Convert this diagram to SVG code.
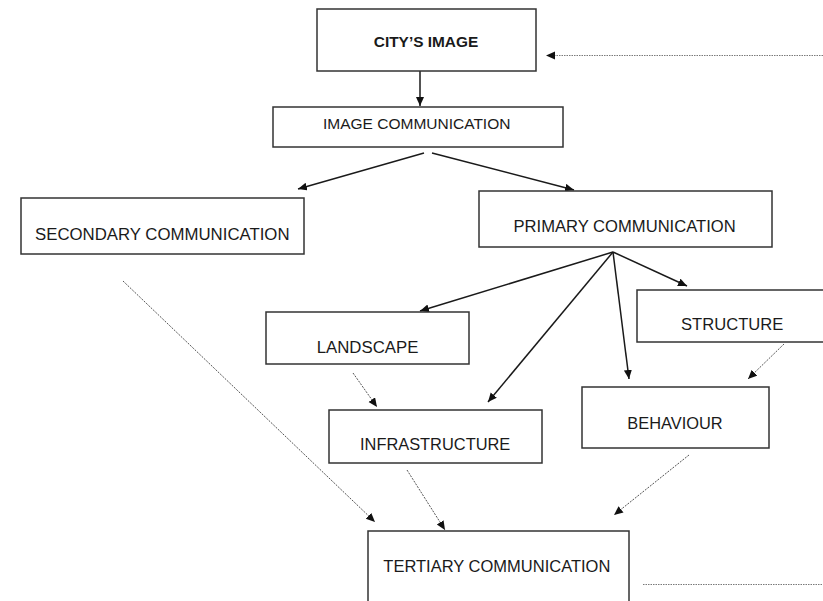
<svg xmlns="http://www.w3.org/2000/svg" width="823" height="601" viewBox="0 0 823 601">
  <style>
    .box { fill: #ffffff; stroke: #333333; stroke-width: 1.5; }
    .lbl { font-family: "Liberation Sans", Arial, sans-serif; fill: #1a1a1a; }
    .solid { stroke: #1a1a1a; stroke-width: 1.5; fill: none; marker-end: url(#head); }
    .dash { stroke: #555555; stroke-width: 1; stroke-dasharray: 2 1.2; fill: none; marker-end: url(#head); }
    .dot { stroke: #7a7a7a; stroke-width: 1; stroke-dasharray: 1.5 1; fill: none; }
  </style>
  <defs>
    <marker id="head" markerUnits="userSpaceOnUse" markerWidth="11" markerHeight="9" refX="9" refY="4" orient="auto">
      <path d="M0,0 L9,4 L0,8 z" fill="#111111"/>
    </marker>
  </defs>
  <rect width="823" height="601" fill="#ffffff"/>

  <g id="connectors">
    <line class="solid" x1="420" y1="71" x2="420" y2="106"/>
    <line class="solid" x1="424" y1="153" x2="298" y2="189"/>
    <line class="solid" x1="432" y1="153" x2="574" y2="190"/>
    <line class="solid" x1="613" y1="252" x2="420" y2="311"/>
    <line class="solid" x1="613" y1="252" x2="488" y2="402"/>
    <line class="solid" x1="613" y1="252" x2="629" y2="379"/>
    <line class="solid" x1="613" y1="252" x2="687" y2="286"/>
    <line class="dash" x1="123" y1="281" x2="375" y2="522"/>
    <line class="dash" x1="353" y1="373" x2="377" y2="407"/>
    <line class="dash" x1="784" y1="344" x2="748" y2="379"/>
    <line class="dash" x1="407" y1="470" x2="445" y2="530"/>
    <line class="dash" x1="689" y1="455" x2="614" y2="515"/>
    <line class="dot" x1="823" y1="55.5" x2="554" y2="55.5"/>
    <path d="M546,55.5 L555,51.5 L555,59.5 z" fill="#111111"/>
    <line class="dot" x1="643" y1="584.5" x2="823" y2="584.5"/>
  </g>

  <g id="city-image">
    <rect class="box" x="317" y="9" width="219" height="62"/>
    <text class="lbl" x="426" y="47" font-size="15.4" font-weight="bold" text-anchor="middle">CITY’S IMAGE</text>
  </g>
  <g id="image-communication">
    <rect class="box" x="273" y="107" width="290" height="40"/>
    <text class="lbl" x="323" y="128.5" font-size="15.5">IMAGE COMMUNICATION</text>
  </g>
  <g id="secondary-communication">
    <rect class="box" x="21" y="198" width="283" height="56"/>
    <text class="lbl" x="35" y="239.5" font-size="16.8">SECONDARY COMMUNICATION</text>
  </g>
  <g id="primary-communication">
    <rect class="box" x="479" y="191" width="293" height="56"/>
    <text class="lbl" x="513.5" y="232" font-size="16.6">PRIMARY COMMUNICATION</text>
  </g>
  <g id="landscape">
    <rect class="box" x="266" y="312" width="203" height="52"/>
    <text class="lbl" x="316.7" y="353" font-size="16.8">LANDSCAPE</text>
  </g>
  <g id="structure">
    <rect class="box" x="637" y="290" width="190" height="52"/>
    <text class="lbl" x="681" y="330" font-size="16.6">STRUCTURE</text>
  </g>
  <g id="infrastructure">
    <rect class="box" x="329" y="410" width="213" height="53"/>
    <text class="lbl" x="360" y="450" font-size="16.4">INFRASTRUCTURE</text>
  </g>
  <g id="behaviour">
    <rect class="box" x="582" y="387" width="187" height="61"/>
    <text class="lbl" x="627.3" y="429" font-size="16.4">BEHAVIOUR</text>
  </g>
  <g id="tertiary-communication">
    <rect class="box" x="368" y="531" width="261" height="80"/>
    <text class="lbl" x="383.3" y="572" font-size="16.5">TERTIARY COMMUNICATION</text>
  </g>
</svg>
